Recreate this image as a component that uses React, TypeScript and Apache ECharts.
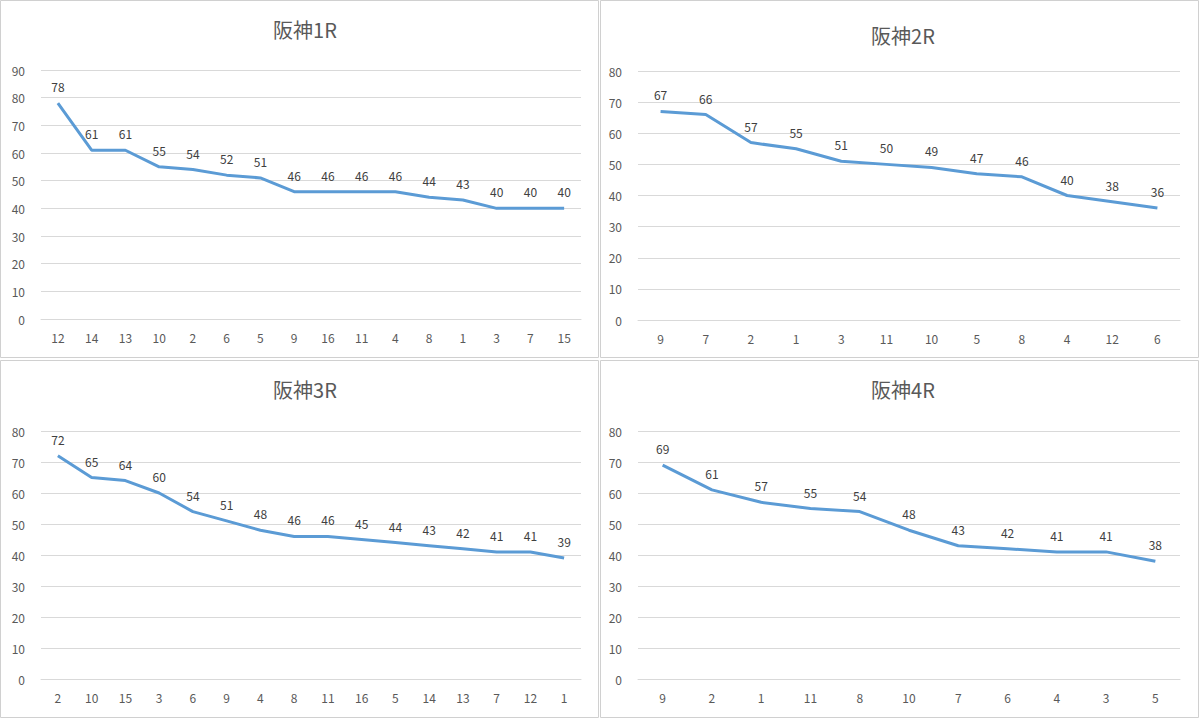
import React, { useEffect, useRef } from "react";
import * as echarts from "echarts";

const titles = ["阪神1R", "阪神2R", "阪神3R", "阪神4R"];
const cats1 = ["12","14","13","10","2","6","5","9","16","11","4","8","1","3","7","15"];
const vals1 = [78,61,61,55,54,52,51,46,46,46,46,44,43,40,40,40];
const cats2 = ["9","7","2","1","3","11","10","5","8","4","12","6"];
const vals2 = [67,66,57,55,51,50,49,47,46,40,38,36];
const cats3 = ["2","10","15","3","6","9","4","8","11","16","5","14","13","7","12","1"];
const vals3 = [72,65,64,60,54,51,48,46,46,45,44,43,42,41,41,39];
const cats4 = ["9","2","1","11","8","10","7","6","4","3","5"];
const vals4 = [69,61,57,55,54,48,43,42,41,41,38];

const cats = [cats1, cats2, cats3, cats4];
const vals = [vals1, vals2, vals3, vals4];
const maxes = [90, 80, 80, 80];

export default function App() {
  const ref = useRef<HTMLDivElement>(null);
  useEffect(() => {
    const chart = echarts.init(ref.current!, null, { renderer: "svg" });
    const grids = [
      { left: 41, right: 619, top: 70, bottom: 399 },
      { left: 638, right: 20, top: 71, bottom: 398 },
      { left: 41, right: 619, top: 431, bottom: 39 },
      { left: 638, right: 20, top: 431, bottom: 39 },
    ];
    const titlePos = [
      { left: 300, top: 14 },
      { left: 898, top: 20 },
      { left: 300, top: 374 },
      { left: 898, top: 374 },
    ];
    const font = "'Noto Sans CJK JP', 'Noto Sans', sans-serif";
    chart.setOption({
      animation: false,
      backgroundColor: "#fff",
      title: titles.map((t, i) => ({
        text: t,
        left: titlePos[i].left,
        top: titlePos[i].top,
        textAlign: "center",
        textStyle: { fontSize: 20, fontWeight: "normal", color: "#595959", fontFamily: font },
      })),
      grid: grids,
      xAxis: cats.map((c, i) => ({
        type: "category",
        gridIndex: i,
        data: c,
        boundaryGap: true,
        axisLine: { lineStyle: { color: "#d9d9d9" } },
        axisTick: { show: false },
        axisLabel: { color: "#595959", fontSize: 12, margin: 12, fontFamily: font },
      })),
      yAxis: maxes.map((m, i) => ({
        type: "value",
        gridIndex: i,
        min: 0,
        max: m,
        interval: 10,
        axisLine: { show: false },
        axisTick: { show: false },
        splitLine: { lineStyle: { color: "#d9d9d9" } },
        axisLabel: { color: "#595959", fontSize: 12, margin: 16, fontFamily: font },
      })),
      series: vals.map((v, i) => ({
        type: "line",
        xAxisIndex: i,
        yAxisIndex: i,
        data: v,
        showSymbol: true,
        symbol: "circle",
        symbolSize: 1,
        itemStyle: { color: "rgba(0,0,0,0)" },
        lineStyle: { color: "#5b9bd5", width: 3 },
        label: { show: true, position: "top", distance: 10, color: "#404040", fontSize: 12, fontFamily: font },
      })),
      graphic: [
        { type: "rect", shape: { x: 0.5, y: 0.5, width: 598, height: 357 }, style: { fill: "none", stroke: "#d0d0d0" } },
        { type: "rect", shape: { x: 600.5, y: 0.5, width: 598, height: 357 }, style: { fill: "none", stroke: "#d0d0d0" } },
        { type: "rect", shape: { x: 0.5, y: 360.5, width: 598, height: 357 }, style: { fill: "none", stroke: "#d0d0d0" } },
        { type: "rect", shape: { x: 600.5, y: 360.5, width: 598, height: 357 }, style: { fill: "none", stroke: "#d0d0d0" } },
      ],
    });
    return () => chart.dispose();
  }, []);
  return <div ref={ref} style={{ position: "fixed", left: 0, top: 0, width: 1200, height: 718 }} />;
}
